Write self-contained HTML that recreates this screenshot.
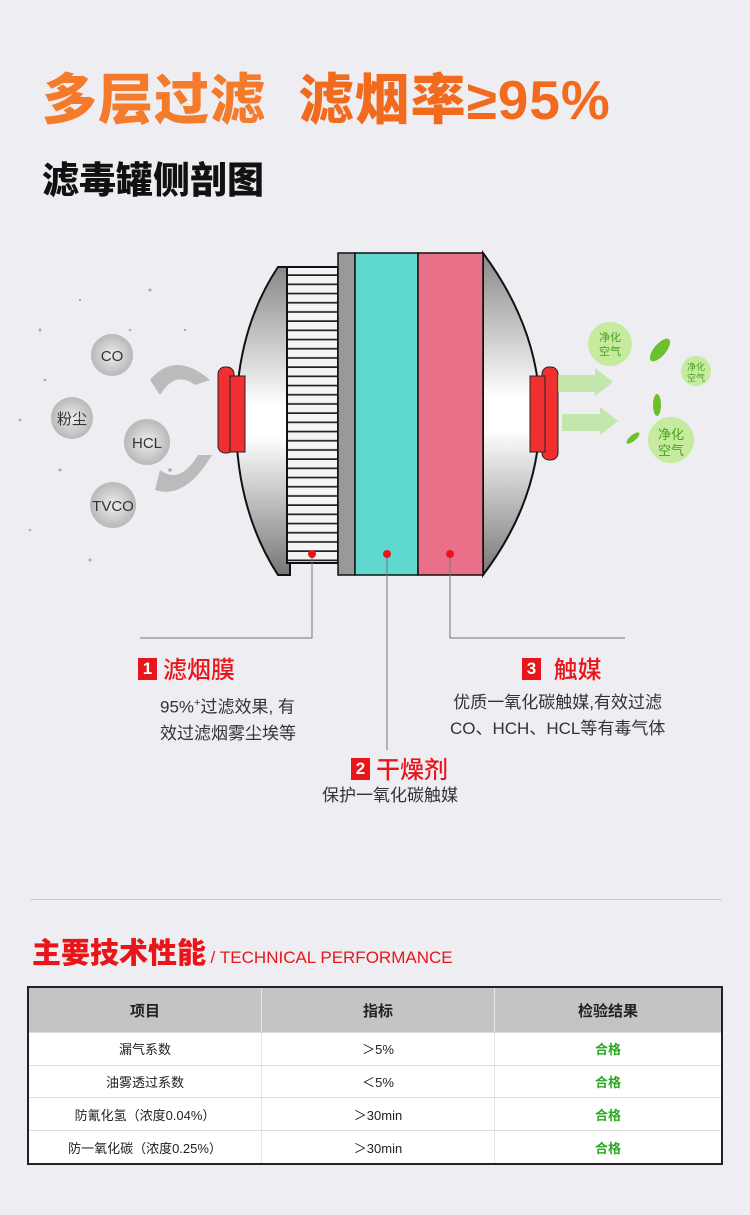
<!DOCTYPE html>
<html><head><meta charset="utf-8"><style>
body{margin:0;width:750px;height:1215px;background:#eeeef2;font-family:"Liberation Sans","Noto Sans CJK SC",sans-serif;position:relative;overflow:hidden}
.a{position:absolute;white-space:nowrap}
.t1{left:42px;top:55px;font-size:55px;font-weight:900;color:#f47a2c;letter-spacing:1px}
.t2{left:42px;top:150px;font-size:37px;font-weight:900;color:#111}
.num{display:inline-block;background:#e8151b;color:#fff;font-size:17px;width:19px;height:22px;line-height:22px;text-align:center;font-weight:bold;vertical-align:4px;margin-right:6px}
.lab{font-size:24px;color:#e8151b;font-weight:500}
.d{font-size:17px;color:#333;line-height:26px}
table{position:absolute;left:27px;top:986px;width:696px;height:179px;border-collapse:collapse;border:2px solid #222;font-size:13px;color:#222;background:#fff}
td,th{text-align:center;border-bottom:1px solid #ddd;border-right:1px solid #e6e6e6}
th{background:#c4c4c4;font-size:15px;height:42px;font-weight:bold}
.g{color:#2aa81e;font-weight:bold}
</style></head><body>
<div class="a t1">多层过滤&nbsp;&nbsp;<span style="color:#f26a1e">滤烟率≥95%</span></div>
<div class="a t2">滤毒罐侧剖图</div>
<svg class="a" style="left:0;top:240px" width="750" height="530" viewBox="0 240 750 530">
<defs>
<linearGradient id="m" x1="0" y1="0" x2="0" y2="1"><stop offset="0" stop-color="#888"/><stop offset=".45" stop-color="#fff"/><stop offset=".55" stop-color="#fff"/><stop offset="1" stop-color="#777"/></linearGradient>
<radialGradient id="b"><stop offset="0" stop-color="#eee"/><stop offset="1" stop-color="#b8b8b8"/></radialGradient>
<pattern id="st" width="10" height="9.2" patternUnits="userSpaceOnUse"><rect width="10" height="9.2" fill="#f4f4f4"/><rect y="7.5" width="10" height="1.7" fill="#222"/></pattern>
</defs>
<g fill="#666" opacity=".5">
<circle cx="40" cy="330" r="1.5"/><circle cx="80" cy="300" r="1.2"/><circle cx="20" cy="420" r="1.4"/><circle cx="60" cy="470" r="1.5"/><circle cx="110" cy="520" r="1.3"/><circle cx="150" cy="290" r="1.5"/><circle cx="170" cy="470" r="1.8"/><circle cx="30" cy="530" r="1.2"/><circle cx="90" cy="560" r="1.5"/><circle cx="130" cy="330" r="1.2"/><circle cx="185" cy="330" r="1.2"/><circle cx="45" cy="380" r="1.3"/>
</g>
<path d="M150 380 Q175 350 210 380 L195 385 Q175 370 160 395Z" fill="#bbb"/>
<path d="M155 490 Q185 500 212 455 L198 455 Q180 485 160 470Z" fill="#bbb"/>
<circle cx="112" cy="355" r="21" fill="url(#b)"/><text x="112" y="361" font-size="15" text-anchor="middle" fill="#333">CO</text>
<circle cx="72" cy="418" r="21" fill="url(#b)"/><text x="72" y="424" font-size="15" text-anchor="middle" fill="#333">粉尘</text>
<circle cx="147" cy="442" r="23" fill="url(#b)"/><text x="147" y="448" font-size="15" text-anchor="middle" fill="#333">HCL</text>
<circle cx="113" cy="505" r="23" fill="url(#b)"/><text x="113" y="511" font-size="15" text-anchor="middle" fill="#333">TVCO</text>
<path d="M290 267 L278 267 Q236 330 236 420 Q236 510 278 575 L290 575Z" fill="url(#m)" stroke="#111" stroke-width="2"/>
<path d="M483 253 Q540 330 540 414 Q540 500 483 575Z" fill="url(#m)" stroke="#111" stroke-width="2"/>
<rect x="287" y="267" width="51" height="296" fill="url(#st)" stroke="#111" stroke-width="2"/>
<rect x="338" y="253" width="17" height="322" fill="#999" stroke="#111" stroke-width="1.5"/>
<rect x="355" y="253" width="63" height="322" fill="#5fd9cf" stroke="#111" stroke-width="1.5"/>
<rect x="418" y="253" width="65" height="322" fill="#ea6f88" stroke="#111" stroke-width="1.5"/>
<rect x="218" y="367" width="16" height="86" rx="7" fill="#f03030" stroke="#222"/>
<rect x="230" y="376" width="15" height="76" fill="#f03030" stroke="#222"/>
<rect x="542" y="367" width="16" height="93" rx="7" fill="#f03030" stroke="#222"/>
<rect x="530" y="376" width="15" height="76" fill="#f03030" stroke="#222"/>
<path d="M558 375 L595 375 L595 368 L613 382 L595 396 L595 392 L558 392Z" fill="#b7e39a" opacity=".8"/>
<path d="M562 414 L600 414 L600 407 L618 421 L600 435 L600 431 L562 431Z" fill="#b7e39a" opacity=".8"/>
<circle cx="610" cy="344" r="22" fill="#c6ea9e"/><text x="610" y="341" font-size="11" text-anchor="middle" fill="#48a020">净化</text><text x="610" y="355" font-size="11" text-anchor="middle" fill="#48a020">空气</text>
<circle cx="696" cy="371" r="15" fill="#c6ea9e"/><text x="696" y="370" font-size="9" text-anchor="middle" fill="#48a020">净化</text><text x="696" y="381" font-size="9" text-anchor="middle" fill="#48a020">空气</text>
<circle cx="671" cy="440" r="23" fill="#c6ea9e"/><text x="671" y="439" font-size="13" text-anchor="middle" fill="#48a020">净化</text><text x="671" y="455" font-size="13" text-anchor="middle" fill="#48a020">空气</text>
<ellipse cx="660" cy="350" rx="6" ry="14" transform="rotate(40 660 350)" fill="#6cc02c"/>
<ellipse cx="657" cy="405" rx="4" ry="11" fill="#6cc02c"/>
<ellipse cx="633" cy="438" rx="3" ry="8" transform="rotate(50 633 438)" fill="#6cc02c"/>
<circle cx="312" cy="554" r="4" fill="#e8151b"/><circle cx="387" cy="554" r="4" fill="#e8151b"/><circle cx="450" cy="554" r="4" fill="#e8151b"/>
<g stroke="#777" stroke-width="1" fill="none"><path d="M312 558 V638 H140"/><path d="M450 558 V638 H625"/><path d="M387 558 V750"/></g>
</svg>
<div class="a" style="left:138px;top:650px"><span class="num">1</span><span class="lab">滤烟膜</span></div>
<div class="a d" style="left:160px;top:690px">95%<sup style="font-size:11px">+</sup>过滤效果, 有<br>效过滤烟雾尘埃等</div>
<div class="a" style="left:522px;top:650px"><span class="num">3</span><span class="lab">&nbsp;触媒</span></div>
<div class="a d" style="left:450px;top:690px;text-align:center">优质一氧化碳触媒,有效过滤<br>CO、HCH、HCL等有毒气体</div>
<div class="a" style="left:351px;top:750px"><span class="num">2</span><span class="lab">干燥剂</span></div>
<div class="a d" style="left:322px;top:783px">保护一氧化碳触媒</div>
<div class="a" style="left:30px;top:899px;width:692px;height:1px;background:#ccc"></div>
<div class="a" style="left:32px;top:930px;color:#e8151b"><span style="font-size:29px;font-weight:900">主要技术性能</span> <span style="font-size:17px">/ TECHNICAL PERFORMANCE</span></div>
<table>
<tr><th style="width:230px">项目</th><th style="width:230px">指标</th><th>检验结果</th></tr>
<tr><td>漏气系数</td><td>＞5%</td><td class="g">合格</td></tr>
<tr><td>油雾透过系数</td><td>＜5%</td><td class="g">合格</td></tr>
<tr><td>防氰化氢（浓度0.04%）</td><td>＞30min</td><td class="g">合格</td></tr>
<tr><td>防一氧化碳（浓度0.25%）</td><td>＞30min</td><td class="g">合格</td></tr>
</table>
</body></html>
